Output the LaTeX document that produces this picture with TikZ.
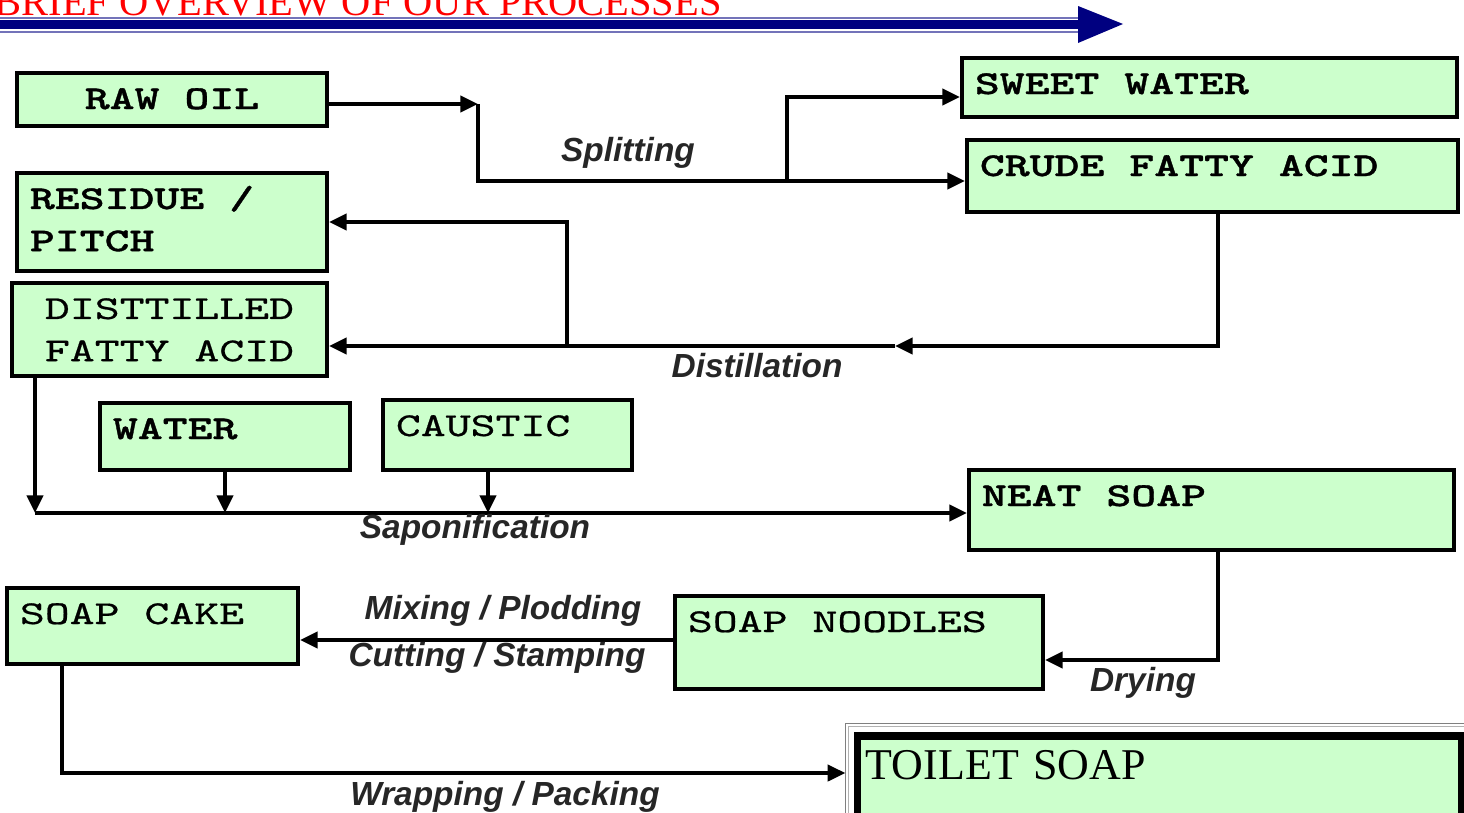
\documentclass[tikz,border=0pt]{standalone}
\usepackage{fontspec}
\usetikzlibrary{arrows.meta}
\newfontfamily\boxmono[FakeStretch=1.42,FakeBold=0.6]{lmmono10-regular.otf}
\newfontfamily\boxmonobold[FakeStretch=1.42,FakeBold=1]{lmmonolt10-bold.otf}
\newfontfamily\boxsans{Liberation Sans}
\newfontfamily\boxserif{Liberation Serif}
\newcommand\pgap{\hspace{7.1pt}}
\definecolor{soapgreen}{HTML}{CCFFCC}
\definecolor{navyline}{HTML}{000080}
\tikzset{
  proc/.style 2 args={draw=black,line width=1.1pt,fill=soapgreen,inner xsep=0.13cm,inner ysep=0.14cm,
    text height=0.22cm,text depth=#2,text width=#1,align=left,
    font=\boxmonobold\fontsize{9.5pt}{12pt}\selectfont},
  thinmono/.style={font=\boxmono\fontsize{9.5pt}{12pt}\selectfont},
  flow/.style={line width=1pt,-{Triangle[length=5pt,width=4.6pt]}},
  lbl/.style={font=\boxsans\bfseries\itshape\fontsize{9.5pt}{11pt}\selectfont,text=black!85,inner sep=0pt},
}
\begin{document}
\begin{tikzpicture}[x=0.01cm,y=-0.01cm]
\useasboundingbox (0,0) rectangle (1464,812);
\clip (0,0) rectangle (1464,812);
% title bar
\node[anchor=base west,text=red,inner sep=0pt,font=\boxserif\fontsize{11.5pt}{12pt}\selectfont] (title) at (-6,15) {BRIEF OVERVIEW OF OUR PROCESSES};
\draw[navyline!55,line width=0.5pt] (0,18) -- (1080,18) (0,32) -- (1080,32);
\fill[navyline] (0,19.5) rectangle (1080,29);
\fill[navyline] (1078,6) -- (1123,24) -- (1078,43) -- cycle;
% boxes
\node[proc={2.84cm}{0.03cm},align=center] (rawoil) at (172,99.5) {RAW\pgap OIL};
\node[proc={2.84cm}{0.48cm}] (residue) at (172,222) {RESIDUE\pgap/\\PITCH};
\node[proc={2.89cm}{0.43cm},align=center,thinmono] (dfa) at (169.5,329.5) {DISTTILLED\\FATTY\pgap ACID};
\node[proc={2.24cm}{0.17cm}] (water) at (225,436.5) {WATER};
\node[proc={2.23cm}{0.20cm},thinmono] (caustic) at (507.5,435) {CAUSTIC};
\node[proc={4.69cm}{0.09cm}] (sweet) at (1209.5,87.5) {SWEET\pgap WATER};
\node[proc={4.65cm}{0.22cm}] (crude) at (1212.5,176) {CRUDE\pgap FATTY\pgap ACID};
\node[proc={4.59cm}{0.30cm}] (neat) at (1211.5,510) {NEAT\pgap SOAP};
\node[proc={3.42cm}{0.43cm},thinmono] (noodles) at (859,642.5) {SOAP\pgap NOODLES};
\node[proc={2.65cm}{0.26cm},thinmono] (cake) at (152.5,626) {SOAP\pgap CAKE};
\node[proc={5.87cm}{0.27cm},line width=2pt,inner xsep=0.08cm,text height=0.29cm,
  font=\boxserif\fontsize{12.5pt}{13pt}\selectfont] (toilet) at (1159.5,778) {TOILET SOAP};
\draw[gray,line width=0.4pt] ([shift={(-9,-9)}]toilet.north west) rectangle ([shift={(9,9)}]toilet.south east);
\draw[gray!60,line width=0.4pt] ([shift={(-6,-6)}]toilet.north west) rectangle ([shift={(6,6)}]toilet.south east);
% splitting
\coordinate (split) at (478,104);
\coordinate (sweetjoin) at (787,181);
\draw[flow] (rawoil.east |- split) -- (split);
\draw[flow] (split) |- (crude.west |- sweetjoin);
\draw[flow] (sweetjoin) |- (sweet.west |- 0,97);
\node[lbl] (splitting) at (628,153) {Splitting};
% distillation
\coordinate (dmid) at (895,346);
\coordinate (pitchjoin) at (567,346);
\draw[flow] (crude.south -| 1218,0) |- (dmid);
\draw[flow] (dmid) -- (dfa.east |- dmid);
\draw[flow] (pitchjoin) |- (residue.east);
\node[lbl] (distillation) at (757,366) {Distillation};
% saponification
\coordinate (sapon) at (35,513);
\draw[flow] (dfa.south -| sapon) -- (sapon);
\draw[flow] (sapon) -- (neat.west |- sapon);
\draw[flow] (water.south) -- (water.south |- sapon);
\draw[flow] (caustic.south -| 488,0) -- (sapon -| 488,0);
\node[lbl] (saponification) at (475,530) {Saponification};
% drying
\draw[flow] (neat.south -| 1218,0) |- (noodles.east |- 0,660);
\node[lbl] (drying) at (1143,683) {Drying};
% mixing / cutting
\draw[flow] (noodles.west |- 0,640) -- (cake.east |- 0,640);
\node[lbl] (mixing) at (503,611) {Mixing / Plodding};
\node[lbl] (cutting) at (497,658) {Cutting / Stamping};
% wrapping
\draw[flow,shorten >=0.09cm] (cake.south -| 62,0) |- (toilet.west |- 0,773);
\node[lbl] (wrapping) at (505,797) {Wrapping / Packing};
\end{tikzpicture}
\end{document}
